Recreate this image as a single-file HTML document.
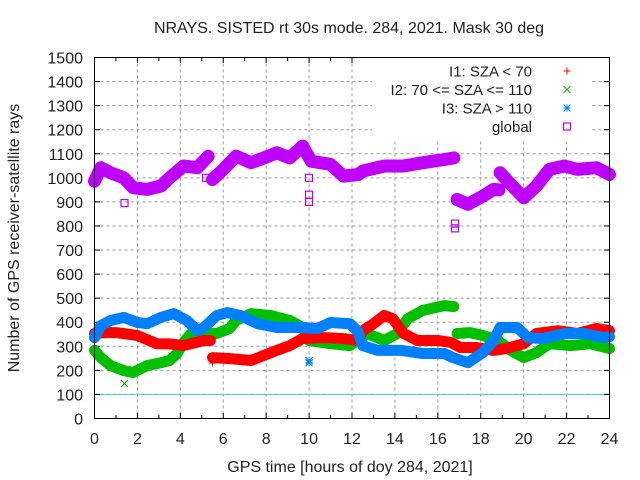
<!DOCTYPE html>
<html><head><meta charset="utf-8"><style>
body{margin:0;background:#fff}
svg{display:block;font-family:"Liberation Sans",sans-serif}
</style></head><body>
<svg id="chart" width="640" height="480" viewBox="0 0 640 480">
<text x="349" y="33" font-size="16" text-anchor="middle" fill="#222">NRAYS. SISTED rt 30s mode. 284, 2021. Mask 30 deg</text>
<text x="350" y="472" font-size="16" text-anchor="middle" fill="#222">GPS time [hours of doy 284, 2021]</text>
<text transform="translate(19,238) rotate(-90)" font-size="16" text-anchor="middle" fill="#222">Number of GPS receiver-satellite rays</text>
<g id="grid"></g>
<g id="ticks"></g>
<g id="series"></g>
<rect x="372" y="58" width="220" height="82" fill="#fff"/>
<g id="legend"></g>
<rect x="94.5" y="57.5" width="515" height="361" fill="none" stroke="#000" stroke-width="1"/>
</svg>
<script>
const xTicks=[0,2,4,6,8,10,12,14,16,18,20,22,24];
const yTicks=[0,100,200,300,400,500,600,700,800,900,1000,1100,1200,1300,1400,1500];
const refLine=100;
const t1=[0,0.5,1,2,2.9,3.5,4.15,5.1,5.4,null,5.5,6.3,7.3,7.9,8.5,9.1,9.7,10.7,11.6,12.3,12.5,13,13.5,13.9,14.4,15.05,16,16.6,17.05,17.8,18.6,19.2,20,20.6,21.6,22.5,23.4,24];
const v1=[353,357,357,345,311,310,303,324,324,null,253,249,241,262,283,303,332,336,332,324,365,394,428,415,353,324,324,316,295,295,283,291,311,353,365,353,374,365];
const t2=[0,0.3,0.75,1.37,1.8,2.45,3.1,3.5,3.85,4.15,4.5,4.9,5.7,6.3,6.6,7.3,8.2,9.1,9.7,10,11,11.9,12.7,13.5,14.1,14.6,15.3,16.3,16.75,null,16.9,17.5,18.1,18.8,19.4,20,20.6,21.2,22.2,23.1,24];
const v2=[283,253,220,199,191,220,232,241,270,316,353,353,353,374,407,436,428,407,378,324,311,303,353,324,353,415,449,469,465,null,353,357,345,324,283,253,274,311,303,311,291];
const t3=[0,0.3,0.75,1.37,2,2.45,3.1,3.7,4.3,4.8,5.1,5.7,6.2,6.8,7.6,8.5,9.5,10.4,11,11.9,12.25,12.5,13.2,14.3,15.3,16.3,16.7,17.4,18.1,18.6,18.9,19.7,20.2,20.9,21.9,22.8,23.7,24];
const v3=[336,386,407,420,399,394,420,436,407,365,378,428,440,428,394,378,378,374,399,394,365,303,283,283,270,270,253,232,274,324,378,378,336,332,353,353,336,340];
const tg=[0,0.3,0.75,1.37,1.8,2.45,3.1,3.5,4.15,4.8,5.3,null,5.5,6,6.6,7.3,7.9,8.5,9.1,9.7,10.1,11,11.6,12.3,12.5,13.5,14.4,15.3,16.3,16.75,null,16.9,17.4,18.1,18.6,18.85,null,18.9,19.4,20,20.6,21.2,21.9,22.5,23.4,24];
const vg=[986,1042,1021,1000,959,952,966,1000,1049,1042,1090,null,993,1035,1090,1063,1083,1104,1083,1132,1069,1056,1007,1014,1028,1049,1049,1063,1076,1083,null,910,890,924,952,950,null,1021,973,917,966,1035,1049,1035,1042,1014];
const outT1=[5.5],outV1=[230];
const outT2=[1.4],outV2=[145];
const outT3=[10,10],outV3=[240,232];
const outTg=[1.4,10,10,16.8,16.8,10,5.2],outVg=[895,930,900,810,790,1000,1000];
const NS="http://www.w3.org/2000/svg";
const X=h=>94.5+h*(515/24);
const Y=v=>418.5-v*(361/1500);
function mk(tag,attrs,parent){const e=document.createElementNS(NS,tag);for(const k in attrs)e.setAttribute(k,attrs[k]);parent.appendChild(e);return e;}
const grid=document.getElementById('grid'),ticks=document.getElementById('ticks'),ser=document.getElementById('series'),leg=document.getElementById('legend');
xTicks.forEach(h=>{
  if(h>0&&h<24){const g=mk('line',{x1:X(h),x2:X(h),y1:57.5,y2:418.5,stroke:'#999','stroke-dasharray':'3,3'},grid);
  
  }
  const t=mk('text',{x:X(h),y:444,'font-size':16,'text-anchor':'middle',fill:'#222'},ticks);t.textContent=h;
  
  
  mk('line',{x1:X(h),x2:X(h),y1:418.5,y2:413,stroke:'#000'},ticks);
  mk('line',{x1:X(h),x2:X(h),y1:57.5,y2:63,stroke:'#000'},ticks);
  if(h<24){mk('line',{x1:X(h+1),x2:X(h+1),y1:418.5,y2:415,stroke:'#000'},ticks);mk('line',{x1:X(h+1),x2:X(h+1),y1:57.5,y2:61,stroke:'#000'},ticks);}
});
yTicks.forEach(v=>{
  if(v>0&&v<1500){const g=mk('line',{x1:94.5,x2:609.5,y1:Y(v),y2:Y(v),stroke:'#999','stroke-dasharray':'3,3'},grid);
  
  }
  const t=mk('text',{x:83,y:Y(v)+6,'font-size':16,'text-anchor':'end',fill:'#222'},ticks);t.textContent=v;
  
  
  mk('line',{x1:94.5,x2:100,y1:Y(v),y2:Y(v),stroke:'#000'},ticks);
  mk('line',{x1:609.5,x2:604,y1:Y(v),y2:Y(v),stroke:'#000'},ticks);
});
const rl=mk('line',{x1:94.5,x2:609.5,y1:Y(refLine),y2:Y(refLine),stroke:'#40d0d8','stroke-width':1},grid);


function band(ts,vs,color,w,name){
  let segs=[],cur=[];
  ts.forEach((t,i)=>{if(t===null||vs[i]===null){if(cur.length)segs.push(cur);cur=[];}else cur.push(X(t).toFixed(1)+','+Y(vs[i]).toFixed(1));});
  if(cur.length)segs.push(cur);
  segs.forEach(s=>{const p=mk('polyline',{points:s.join(' '),fill:'none',stroke:color,'stroke-width':w,'stroke-linejoin':'round','stroke-linecap':'round'},ser);
  
  });
}
function marker(type,x,y,color,parent){
  const s=3.5;let p;
  if(type==='+')p=mk('path',{d:`M${x-s},${y}H${x+s}M${x},${y-s}V${y+s}`,stroke:color,fill:'none'},parent);
  else if(type==='x')p=mk('path',{d:`M${x-s},${y-s}L${x+s},${y+s}M${x-s},${y+s}L${x+s},${y-s}`,stroke:color,fill:'none'},parent);
  else if(type==='*')p=mk('path',{d:`M${x-s},${y}H${x+s}M${x},${y-s}V${y+s}M${x-s},${y-s}L${x+s},${y+s}M${x-s},${y+s}L${x+s},${y-s}`,stroke:color,fill:'none'},parent);
  else p=mk('rect',{x:x-3.5,y:y-3.5,width:7,height:7,stroke:color,fill:'none','stroke-width':1.2},parent);
  return p;
}
band(tg,vg,'#c000ff',13,'series-global');
band(t2,v2,'#00c000',11,'series-i2');
band(t1,v1,'#ff0000',11,'series-i1');
band(t3,v3,'#0080ff',11,'series-i3');
[[outT1,outV1,'+','#ff0000'],[outT2,outV2,'x','#00a000'],[outT3,outV3,'*','#0080ff'],[outTg,outVg,'s','#c000ff']].forEach(([ts,vs,m,c])=>{
  ts.forEach((t,i)=>{const p=marker(m,X(t),Y(vs[i]),c,ser);
  
  });
});
const legLabels=['I1: SZA < 70','I2: 70 <= SZA <= 110','I3: SZA > 110','global'];
const legMarks=['+','x','*','s'],legColors=['#ff0000','#00c000','#0080ff','#c000ff'];
legLabels.forEach((l,i)=>{
  const y=71+i*18.5;
  const t=mk('text',{x:532,y:y+5.5,'font-size':15,'text-anchor':'end',fill:'#222'},leg);t.textContent=l;
  
  
  const m=marker(legMarks[i],567,y,legColors[i],leg);
  
  
});
</script>
</body></html>
